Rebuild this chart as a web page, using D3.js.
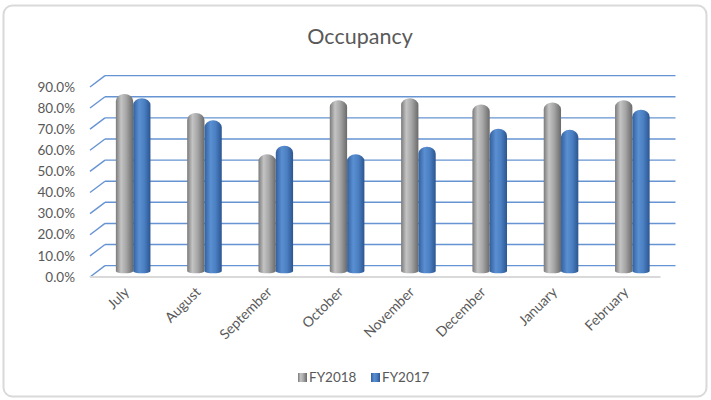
<!DOCTYPE html>
<html>
<head>
<meta charset="utf-8">
<script src="https://cdn.jsdelivr.net/npm/d3@7"></script>
<style>
  body { margin: 0; background: #fff; }
  text { font-family: Lato, "Open Sans", sans-serif; fill: #595959; }
</style>
</head>
<body>
<script>
// data
var months = ["July", "August", "September", "October", "November", "December", "January", "February"];
var seriesNames = ["FY2018", "FY2017"];
var fy2018 = [0.84, 0.75, 0.555, 0.81, 0.82, 0.79, 0.80, 0.81];
var fy2017 = [0.82, 0.715, 0.595, 0.555, 0.59, 0.675, 0.67, 0.765];
var yTicks = [0, 0.1, 0.2, 0.3, 0.4, 0.5, 0.6, 0.7, 0.8, 0.9];

var W = 711, H = 400;
var depthX = 7.5, depthY = 5.65;   // half depth of the 3d floor

var svg = d3.select("body").append("svg")
    .attr("width", W)
    .attr("height", H);

// chart frame
svg.append("rect")
    .attr("x", 3.5).attr("y", 5.5)
    .attr("width", 703).attr("height", 391)
    .attr("rx", 9)
    .attr("fill", "#fff")
    .attr("stroke", "#d9d9d9")
    .attr("stroke-width", 2);

var defs = svg.append("defs");

function cylGrad(id, stops) {
  var g = defs.append("linearGradient").attr("id", id)
      .attr("x1", "0%").attr("x2", "100%").attr("y1", "0%").attr("y2", "0%");
  stops.forEach(function(s) {
    g.append("stop").attr("offset", s[0]).attr("stop-color", s[1]);
  });
}
cylGrad("gGray", [["0%", "#7a7a7a"], ["30%", "#c4c4c4"], ["60%", "#a6a6a6"], ["100%", "#6a6a6a"]]);
cylGrad("gBlue", [["0%", "#33609e"], ["35%", "#5a8fd2"], ["65%", "#4a7fc2"], ["100%", "#2c5590"]]);
var fills = ["url(#gGray)", "url(#gBlue)"];

// scales
var x = d3.scaleBand().domain(months).range([97.5, 668]);
var x1 = d3.scaleBand().domain(seriesNames).range([-17.3, 17.3]);
var y = d3.scaleLinear().domain([0, 0.9]).range([271.3, 81.3]);
var fmt = d3.format(".1%");

// back wall gridlines + side diagonals
var grid = svg.append("g");
yTicks.forEach(function(t) {
  var yb = y(t) - depthY, yf = y(t) + depthY;
  grid.append("line")
      .attr("x1", 97.5 + depthX).attr("x2", 668 + depthX)
      .attr("y1", yb).attr("y2", yb)
      .attr("stroke", "#6693d2").attr("stroke-width", 1.4);
  grid.append("line")
      .attr("x1", 97.5 - depthX).attr("x2", 97.5 + depthX)
      .attr("y1", yf).attr("y2", yb)
      .attr("stroke", "#6693d2").attr("stroke-width", 1.4);
  svg.append("text")
      .attr("x", 75).attr("y", yf)
      .attr("dy", "0.35em")
      .attr("text-anchor", "end")
      .style("font-size", "13.5px")
      .text(fmt(t));
});

// floor front edge
svg.append("line")
    .attr("x1", 97.5 - depthX).attr("x2", 668 - depthX)
    .attr("y1", y(0) + depthY).attr("y2", y(0) + depthY)
    .attr("stroke", "#d9d9d9").attr("stroke-width", 2);

// cylinders
function cylinder(x0, w, top, base) {
  var rx = w / 2, ry = 7, rb = 2;
  return "M" + x0 + "," + (top + ry) +
    "A" + rx + "," + ry + " 0 0 1 " + (x0 + w) + "," + (top + ry) +
    "L" + (x0 + w) + "," + base +
    "A" + rx + "," + rb + " 0 0 1 " + x0 + "," + base + "Z";
}

var series = [fy2018, fy2017];
series.forEach(function(vals, si) {
  svg.append("g").selectAll("path")
    .data(vals)
    .enter().append("path")
      .attr("d", function(d, i) {
        var cx = x(months[i]) + x.bandwidth() / 2 + x1(seriesNames[si]);
        return cylinder(cx, x1.bandwidth(), y(d), y(0));
      })
      .attr("fill", fills[si]);
});

// month labels
svg.append("g").selectAll("text")
  .data(months)
  .enter().append("text")
    .attr("transform", function(d) {
      return "translate(" + (x(d) + x.bandwidth() / 2 - 3) + ",293)rotate(-45)";
    })
    .attr("text-anchor", "end")
    .style("font-size", "14px")
    .text(function(d) { return d; });

// title
svg.append("text")
    .attr("x", 360).attr("y", 44)
    .attr("text-anchor", "middle")
    .style("font-size", "21.5px")
    .text("Occupancy");

// legend
var legend = svg.append("g").attr("transform", "translate(298,373)");
var lx = [0, 73];
seriesNames.forEach(function(s, i) {
  legend.append("rect")
      .attr("x", lx[i]).attr("y", 0)
      .attr("width", 9).attr("height", 9)
      .attr("fill", fills[i]);
  legend.append("text")
      .attr("x", lx[i] + 11).attr("y", 4.5)
      .attr("dy", "0.35em")
      .style("font-size", "13.5px")
      .text(s);
});
</script>
</body>
</html>
